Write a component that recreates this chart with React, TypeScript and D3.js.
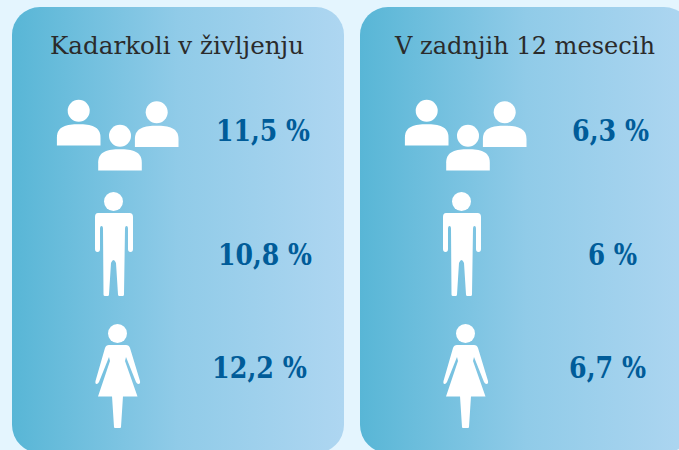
import React from "react";
import * as d3 from "d3";

const panelTitles = ["Kadarkoli v življenju", "V zadnjih 12 mesecih"];
const groups = ["skupaj", "moški", "ženske"];
const lifetimeLabels = ["11,5 %", "10,8 %", "12,2 %"];
const lastYearLabels = ["6,3 %", "6 %", "6,7 %"];

const width = 679;
const height = 450;
const serif = "'DejaVu Serif', 'Liberation Serif', serif";

const panelX = d3.scaleOrdinal<string, number>().domain(panelTitles).range([12, 360]);
const rowBase = d3.scaleOrdinal<string, number>().domain(groups).range([141, 265, 378]);

// label placement: [left edge, width]
const titleBox = [[50, 254], [395, 260]];
const valueBox = [
  [[216, 94], [218, 94], [212, 95]],
  [[572, 77], [588, 49], [569, 77]],
];

function Bust({ x, y }: { x: number; y: number }) {
  const top = y + 13.5;
  const bottom = y + 34.7;
  const p = d3.path();
  p.moveTo(x - 21.8, bottom);
  p.lineTo(x - 21.8, bottom - 8);
  p.bezierCurveTo(x - 21.8, top + 2, x - 12, top, x, top);
  p.bezierCurveTo(x + 12, top, x + 21.8, top + 2, x + 21.8, bottom - 8);
  p.lineTo(x + 21.8, bottom);
  p.closePath();
  return (
    <g fill="#fff">
      <circle cx={x} cy={y} r={11} />
      <path d={p.toString()} />
    </g>
  );
}

function Man({ dx }: { dx: number }) {
  return (
    <g transform={`translate(${dx},0)`} fill="#fff">
      <circle cx={113.5} cy={201.5} r={9.5} />
      <path d="M98 213 H129.5 Q133 213 133 217 V249 Q133 252 130.5 252 Q128 252 128 249 V229 Q128 226 126.5 226 Q125 226 125 229 L124 294.5 Q124 296 122.5 296 H119.5 Q118 296 118 294.5 L116 263 Q113.5 257 111 263 L109 294.5 Q109 296 107.5 296 H105 Q103.5 296 103.5 294.5 L103 229 Q103 226 101.5 226 Q100 226 100 229 V249 Q100 252 97.5 252 Q95 252 95 249 V217 Q95 213 98 213 Z" />
    </g>
  );
}

function Woman({ dx }: { dx: number }) {
  return (
    <g transform={`translate(${dx},0)`} fill="#fff">
      <circle cx={117.5} cy={333.5} r={9.5} />
      <path d="M109 345 H126 Q129 345 130 348 L140 381 Q140.5 384 138.5 384 Q137 384 136 382 L126 357 L125 361 L137.5 396.5 H98 L110 361 L109 357 L99 382 Q98 384 96.5 384 Q95 384 95.5 381 L105 348 Q106 345 109 345 Z" />
      <path d="M112 396 H123 L121 427 Q121 428 120 428 H115 Q114 428 114 427 Z" />
    </g>
  );
}

export default function App() {
  return (
    <svg width={width} height={height} style={{ position: "absolute", left: 0, top: 0 }}>
      <defs>
        <linearGradient id="panelFill" x1="0" x2="1" y1="0" y2="0">
          <stop offset="0" stopColor="#58b6d6" />
          <stop offset="0.5" stopColor="#90cbe8" />
          <stop offset="1" stopColor="#aed6f1" />
        </linearGradient>
      </defs>
      <rect width={width} height={height} fill="#e4f5fe" />
      {panelTitles.map((title, p) => {
        const labels = p === 0 ? lifetimeLabels : lastYearLabels;
        const ix = panelX(title) - 12;
        return (
          <g key={title}>
            <rect x={panelX(title)} y={7} width={332} height={446} rx={28} fill="url(#panelFill)" />
            <text
              x={titleBox[p][0]}
              y={54}
              textLength={titleBox[p][1]}
              lengthAdjust="spacingAndGlyphs"
              fontFamily={serif}
              fontSize={25}
              fill="#2b2b2b"
            >
              {title}
            </text>
            <Bust x={78.7 + ix} y={110.7} />
            <Bust x={156.7 + ix} y={112.3} />
            <Bust x={120 + ix} y={135.7} />
            <Man dx={ix} />
            <Woman dx={ix} />
            {labels.map((label, i) => (
              <text
                key={label}
                x={valueBox[p][i][0]}
                y={rowBase(groups[i])}
                textLength={valueBox[p][i][1]}
                lengthAdjust="spacingAndGlyphs"
                fontFamily={serif}
                fontWeight={700}
                fontSize={30}
                fill="#005c99"
              >
                {label}
              </text>
            ))}
          </g>
        );
      })}
    </svg>
  );
}
